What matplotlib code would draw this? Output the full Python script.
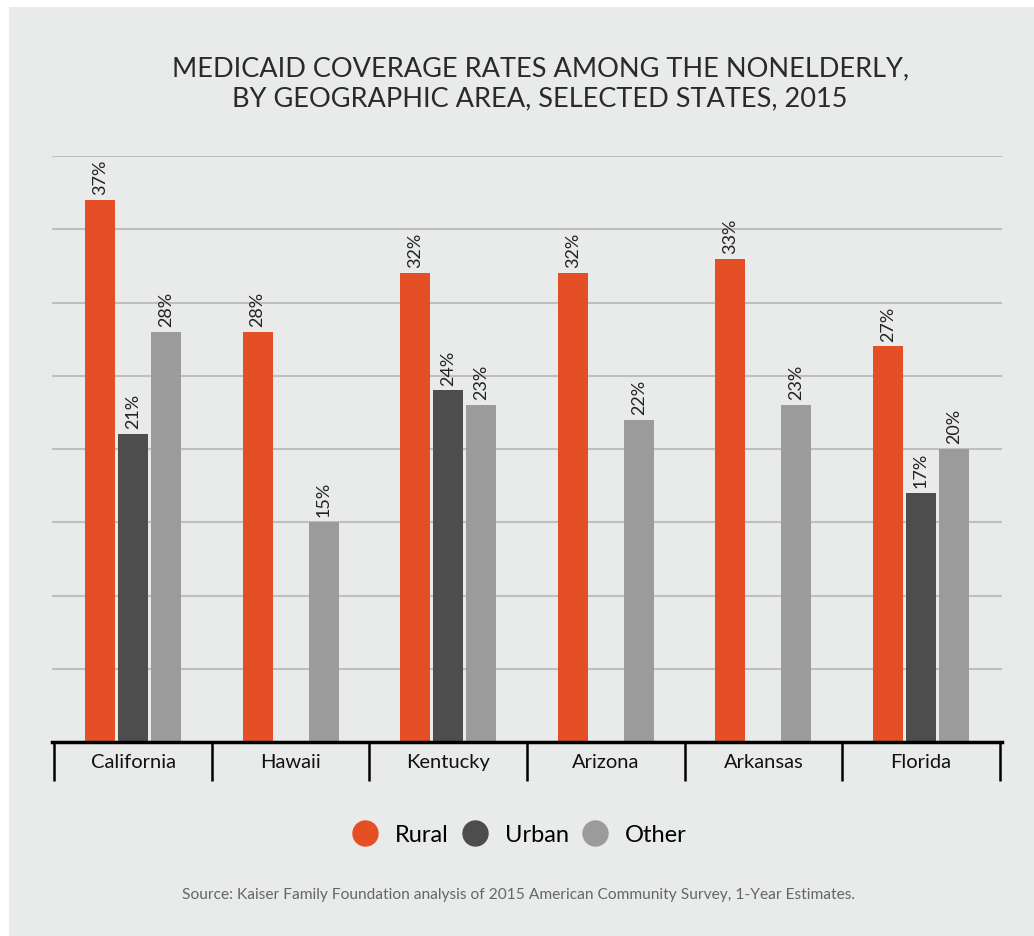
import matplotlib
matplotlib.use("Agg")
import matplotlib.pyplot as plt
from matplotlib.lines import Line2D
from matplotlib.patches import Rectangle
import numpy as np

states = ["California", "Hawaii", "Kentucky", "Arizona", "Arkansas", "Florida"]
series_names = ["Rural", "Urban", "Other"]
rural = [37, 28, 32, 32, 33, 27]
urban = [21, None, 24, None, None, 17]
other = [28, 15, 23, 22, 23, 20]
colors = ["#e44f25", "#4d4d4d", "#9b9b9b"]
title = "MEDICAID COVERAGE RATES AMONG THE NONELDERLY,\nBY GEOGRAPHIC AREA, SELECTED STATES, 2015"
source = "Source: Kaiser Family Foundation analysis of 2015 American Community Survey, 1-Year Estimates."

plt.rcParams['font.family'] = ['Lato', 'DejaVu Sans']

W, H = 1034, 937
fig = plt.figure(figsize=(W/100, H/100), dpi=100)
fig.patch.set_facecolor("white")
fig.patches.append(Rectangle((9/W, 0), 1, 1 - 8/H, transform=fig.transFigure,
                             facecolor="#e9eaea", edgecolor="none", zorder=-10))

ax = fig.add_axes([52/W, 194/H, 950/W, (743-157)/H])
ax.set_facecolor("none")
ax.set_xlim(-0.515, 5.515)
ax.set_ylim(0, 40)

x = np.arange(len(states))
bw = 30/157.5
step = 33/157.5
for i, (vals, c) in enumerate(zip([rural, urban, other], colors)):
    for j, v in enumerate(vals):
        if v is None:
            continue
        xp = x[j] + (i-1)*step
        ax.bar(xp, v, width=bw, color=c, zorder=3)
        ax.text(xp, v + 0.4, f"{v}%", rotation=90, ha="center", va="bottom",
                fontsize=13, color="#222222", zorder=4)

for g in range(5, 41, 5):
    ax.axhline(g, color="#bfbfbf", linewidth=1.5, zorder=1)

for s in ["top", "right", "left"]:
    ax.spines[s].set_visible(False)
ax.spines["bottom"].set_linewidth(2.5)
ax.spines["bottom"].set_color("black")
ax.spines["bottom"].set_zorder(5)

ax.set_yticks([])
ax.set_xticks(x)
ax.set_xticklabels(states, fontsize=14.5, color="#111111")
ax.tick_params(axis="x", which="major", length=0, pad=8)
ax.set_xticks(np.arange(-0.5, 6.0, 1.0), minor=True)
ax.tick_params(axis="x", which="minor", length=28, width=1.8, color="black", direction="out")

fig.text(540/W, 1 - 84/H, title, ha="center", va="center", fontsize=19.5,
         fontweight="normal", color="#2a2a2a", linespacing=1.25)

handles = [Line2D([0], [0], marker="o", linestyle="none", markersize=18,
                  markerfacecolor=c, markeredgecolor=c) for c in colors]
fig.legend(handles, series_names, loc="center", bbox_to_anchor=(520/W, 1 - 836/H),
           ncol=3, frameon=False, fontsize=17, handlelength=1.0,
           handletextpad=0.77, columnspacing=0.6)

fig.text(519/W, 1 - 895/H, source, ha="center", va="center", fontsize=11.2, color="#666666")

fig.savefig("out.png", dpi=100)
